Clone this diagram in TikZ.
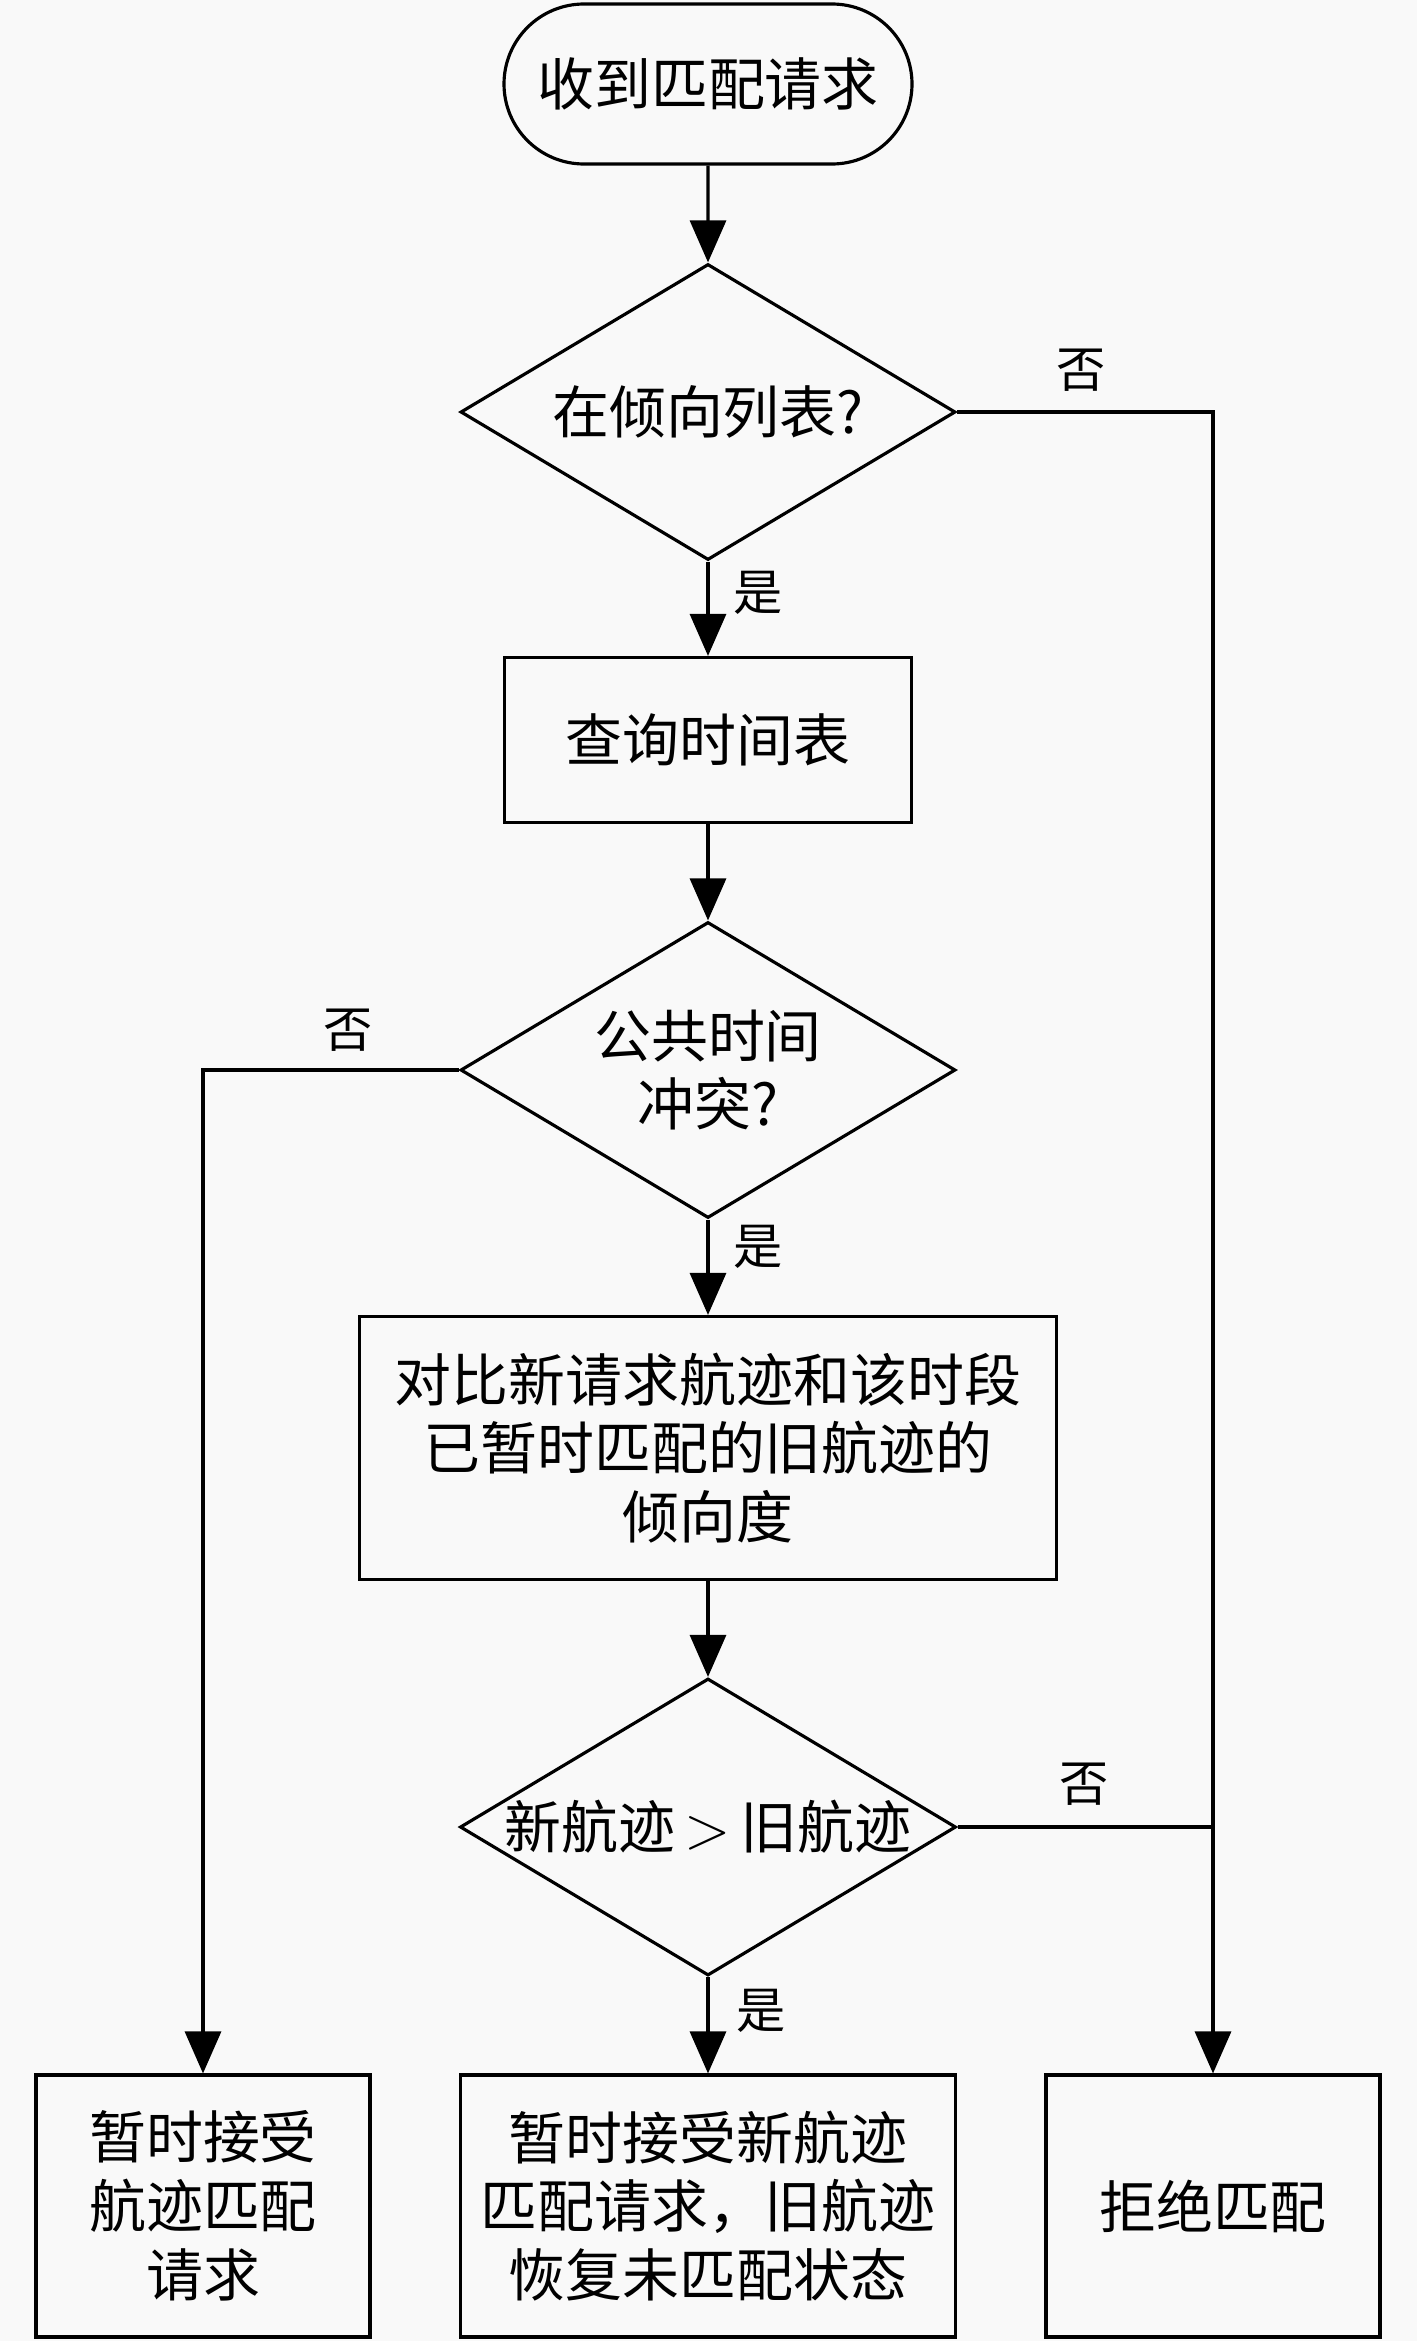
\documentclass[tikz,border=0pt]{standalone}
\usepackage{fontspec}
\newfontfamily\cjk{Noto Sans CJK SC}
\usetikzlibrary{positioning}
\usetikzlibrary{shapes.geometric, shapes.misc}
\usetikzlibrary{arrows.meta}
\definecolor{bgpaper}{RGB}{249,249,249}
\tikzset{
  flowline/.style={line width=0.9pt},
  flowarrow/.style={flowline,-{Triangle[length=4.2mm,width=3.6mm]}},
  boxtext/.style={font=\cjk\fontsize{16.2}{19.6}\selectfont, align=center, inner sep=0pt},
  procbox/.style={boxtext, draw, flowline, rectangle},
  decision/.style={boxtext, draw, flowline, diamond, aspect=1.67, minimum width=4.95cm, minimum height=2.96cm},
  yesno/.style={font=\cjk\fontsize{14}{16}\selectfont, inner sep=0pt},
}
\begin{document}
\begin{tikzpicture}
\useasboundingbox (0,0) rectangle (14.17,-23.41);
\fill[bgpaper] (0,0) rectangle (14.17,-23.41);

% main column
\node[boxtext,draw,flowline,rounded rectangle,minimum width=4.08cm,minimum height=1.6cm] (start) at (7.08,-0.84) {收到匹配请求};
\node[decision] (inlist) at (7.08,-4.12) {在倾向列表?};
\node[procbox,minimum width=4.07cm,minimum height=1.65cm] (query) at (7.08,-7.40) {查询时间表};
\node[decision] (conflict) at (7.08,-10.70) {公共时间\\冲突?};
\node[procbox,minimum width=6.97cm,minimum height=2.63cm] (compare) at (7.08,-14.48) {对比新请求航迹和该时段\\已暂时匹配的旧航迹的\\倾向度};
\node[decision] (better) at (7.08,-18.27) {新航迹\,$>$\,旧航迹};

% results
\node[procbox,minimum width=3.34cm,minimum height=2.62cm] (accept) at (2.03,-22.06) {暂时接受\\航迹匹配\\请求};
\node[procbox,minimum width=4.95cm,minimum height=2.62cm] (replace) at (7.08,-22.06) {暂时接受新航迹\\匹配请求，旧航迹\\恢复未匹配状态};
\node[procbox,minimum width=3.34cm,minimum height=2.62cm] (reject) at (12.13,-22.06) {拒绝匹配};

% connectors
\draw[flowarrow] (start) -- (inlist);
\draw[flowarrow] (inlist) -- (query);
\draw[flowarrow] (inlist.east) -| (reject.north);
\draw[flowarrow] (query) -- (conflict);
\draw[flowarrow] (conflict.west) -| (accept.north);
\draw[flowarrow] (conflict) -- (compare);
\draw[flowarrow] (compare) -- (better);
\draw[flowline] (better.east) -- (better.east -| reject.north);
\draw[flowarrow] (better) -- (replace);

% yes / no
\node[yesno] (no1) at (10.81,-3.70) {否};
\node[yesno] (yes1) at (7.58,-5.93) {是};
\node[yesno] (no2) at (3.48,-10.30) {否};
\node[yesno] (yes2) at (7.58,-12.47) {是};
\node[yesno] (no3) at (10.84,-17.84) {否};
\node[yesno] (yes3) at (7.61,-20.11) {是};

\end{tikzpicture}
\end{document}
